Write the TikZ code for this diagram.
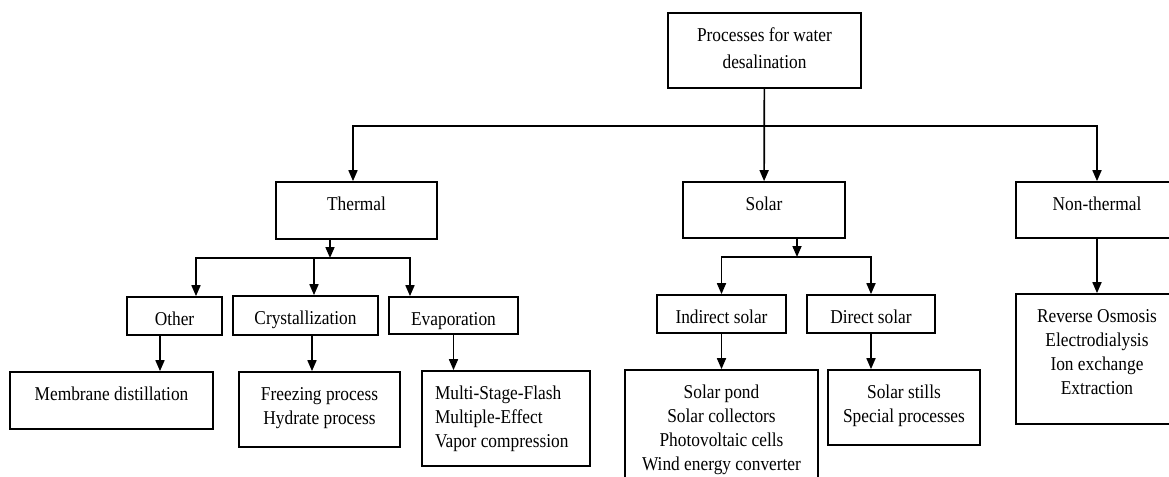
\documentclass[tikz,border=0pt]{standalone}
\usepackage{fontspec}
\setmainfont{Liberation Serif}[FakeStretch=0.885]
\usetikzlibrary{arrows.meta}
\newcommand{\blktext}[4][\centering]{\parbox[c][#3][t]{#2}{#1\fontsize{9.8pt}{12pt}\selectfont\rule{0pt}{14pt}#4\par}}

\begin{document}
\begin{tikzpicture}[x=.5pt,y=-.5pt,line width=.85pt,
		blk/.style={draw,inner sep=0pt},
		arr/.style={-{Triangle[length=5.5pt,width=4.5pt]}}]
			\useasboundingbox (0,0) rectangle (1169,477);
			% top level
			\node[blk] (desal) at (764.5,50.5) {\blktext{96.5pt}{37.5pt}{Processes for water\\[1.5pt]desalination}};
			\node[blk] (thermal) at (356.5,210.5) {\blktext{80.5pt}{28.5pt}{Thermal}};
			\node[blk] (solar) at (764,210) {\blktext{81pt}{28pt}{Solar}};
			\node[blk] (nonthermal) at (1097,210) {\blktext{81pt}{28pt}{Non-thermal}};
			% thermal branch
			\node[blk] (other) at (174.5,316) {\blktext{47.5pt}{19pt}{Other}};
			\node[blk] (cryst) at (305.5,315.5) {\blktext{72.5pt}{19.5pt}{Crystallization}};
			\node[blk] (evap) at (453.5,315.5) {\blktext{64.5pt}{18.5pt}{Evaporation}};
			\node[blk] (membrane) at (111.5,400.5) {\blktext{101.5pt}{28.5pt}{Membrane distillation}};
			\node[blk] (freezing) at (319.5,409.5) {\blktext{80.5pt}{37.5pt}{Freezing process\\Hydrate process}};
			\node[blk] (multi) at (506,418.5) {\blktext[\raggedright\leftskip=6.5pt]{84pt}{47.5pt}{Multi-Stage-Flash\\Multiple-Effect\\Vapor compression}};
			% solar branch
			\node[blk] (indirect) at (721.5,314) {\blktext{64.5pt}{19pt}{Indirect solar}};
			\node[blk] (direct) at (871,314) {\blktext{64pt}{19pt}{Direct solar}};
			\node[blk] (pond) at (721.5,431) {\blktext{96.5pt}{61pt}{Solar pond\\Solar collectors\\Photovoltaic cells\\Wind energy converter}};
			\node[blk] (stills) at (904,407.5) {\blktext{76pt}{37.5pt}{Solar stills\\Special processes}};
			% non-thermal branch
			\node[blk] (ro) at (1097,359) {\blktext{81pt}{65pt}{Reverse Osmosis\\Electrodialysis\\Ion exchange\\Extraction}};
			% connectors
			\coordinate (split) at (764,126);
			\coordinate (tjoin) at (330,258);
			\coordinate (sjoin) at (797,257);
			\draw[arr] (desal) -- (solar);
			\draw[arr] (split) -| (thermal.north -| 353,0);
			\draw[arr] (split) -| (nonthermal.north);
			\draw[arr] (thermal.south -| tjoin) -- (tjoin);
			\draw[arr] (tjoin) -| (other.north -| 196,0);
			\draw[arr] (tjoin -| 314,0) -- (cryst.north -| 314,0);
			\draw[arr] (tjoin) -| (evap.north -| 410,0);
			\draw[arr] (other.south -| 160,0) -- (membrane.north -| 160,0);
			\draw[arr] (cryst.south -| 312,0) -- (freezing.north -| 312,0);
			\draw[arr] (evap.south) -- (multi.north -| evap.south);
			\draw[arr] (solar.south -| sjoin) -- (sjoin);
			\draw[arr] (sjoin) -| (indirect.north);
			\draw[arr] (sjoin) -| (direct.north);
			\draw[arr] (indirect) -- (pond);
			\draw[arr] (direct.south) -- (stills.north -| direct.south);
			\draw[arr] (nonthermal) -- (ro);
		\end{tikzpicture}
\end{document}
